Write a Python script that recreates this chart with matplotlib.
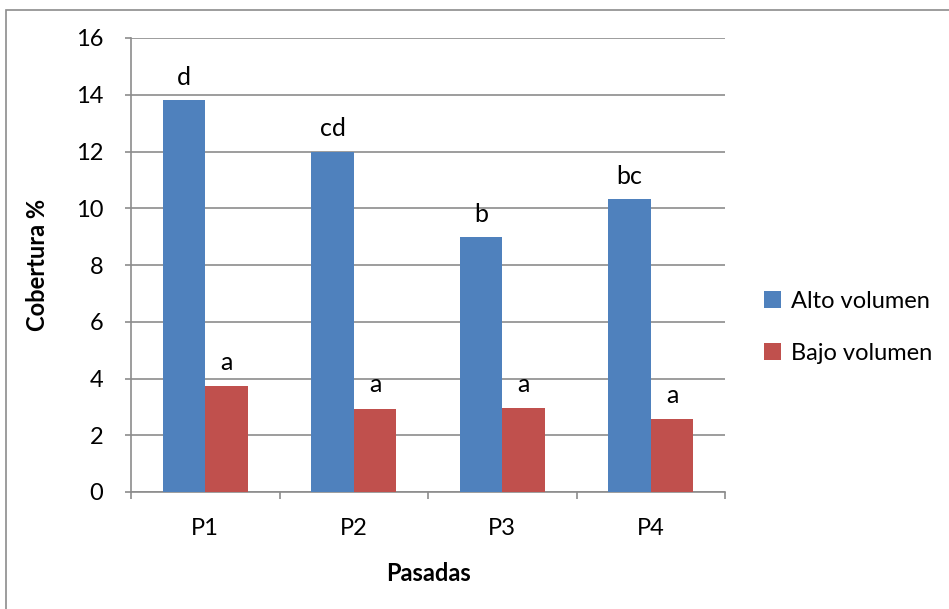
import matplotlib
matplotlib.use("Agg")
import matplotlib.pyplot as plt
import numpy as np
from matplotlib.patches import Rectangle

categories = ["P1", "P2", "P3", "P4"]
alto = [13.8, 12.0, 8.97, 10.33]
bajo = [3.73, 2.94, 2.96, 2.56]
alto_letters = ["d", "cd", "b", "bc"]
bajo_letters = ["a", "a", "a", "a"]
series_names = ["Alto volumen", "Bajo volumen"]

plt.rcParams['font.family'] = ['Lato', 'DejaVu Sans']
FS = 17

W, H = 949, 609
fig = plt.figure(figsize=(W / 100, H / 100), dpi=100)
fig.patches.append(Rectangle((5.5 / W, -0.1), 2.0, (H - 9.5) / H + 0.1,
                             transform=fig.transFigure, fill=False,
                             edgecolor="#8c8c8c", linewidth=1.2))

ax = fig.add_axes([131 / W, (H - 492) / H, 594 / W, 454 / H])
x = np.arange(len(categories))
bw = 1 / 3.5
blue = "#4f81bd"
red = "#c0504d"
ax.bar(x - bw / 2, alto, bw, color=blue, label=series_names[0], zorder=3)
ax.bar(x + bw / 2, bajo, bw, color=red, label=series_names[1], zorder=3)

for xi, v, t in zip(x, alto, alto_letters):
    ax.annotate(t, (xi - bw / 2, v), xytext=(0, 8), textcoords="offset points",
                ha="center", va="bottom", fontsize=18)
for xi, v, t in zip(x, bajo, bajo_letters):
    ax.annotate(t, (xi + bw / 2, v), xytext=(0, 9), textcoords="offset points",
                ha="center", va="bottom", fontsize=18)

ax.set_xlim(-0.5, len(categories) - 0.5)
ax.set_ylim(0, 16)
ax.set_yticks(np.arange(0, 17, 2))
ax.set_xticks(x)
ax.set_xticklabels(categories, fontsize=FS)
ax.set_xticks(np.arange(-0.5, len(categories), 1), minor=True)
ax.tick_params(axis="x", which="major", length=0, pad=19)
ax.tick_params(axis="x", which="minor", length=5, color="#8c8c8c", width=1.2)
ax.tick_params(axis="y", labelsize=FS, length=4, color="#8c8c8c", width=1.2, pad=16)
ax.yaxis.grid(True, color="#8c8c8c", linewidth=1.2, zorder=0)
ax.set_axisbelow(True)
for s in ["top", "right"]:
    ax.spines[s].set_visible(False)
for s in ["left", "bottom"]:
    ax.spines[s].set_color("#8c8c8c")
    ax.spines[s].set_linewidth(1.2)

ax.set_ylabel("Cobertura %", fontsize=FS, fontweight="bold", labelpad=19)
ax.set_xlabel("Pasadas", fontsize=FS, fontweight="bold", labelpad=16)

ax.legend(loc="center left", bbox_to_anchor=(1.03, 0.363), frameon=False,
          fontsize=FS, handlelength=0.7, handleheight=0.7, handletextpad=0.45,
          labelspacing=1.3)

fig.savefig("out.png", dpi=100)
